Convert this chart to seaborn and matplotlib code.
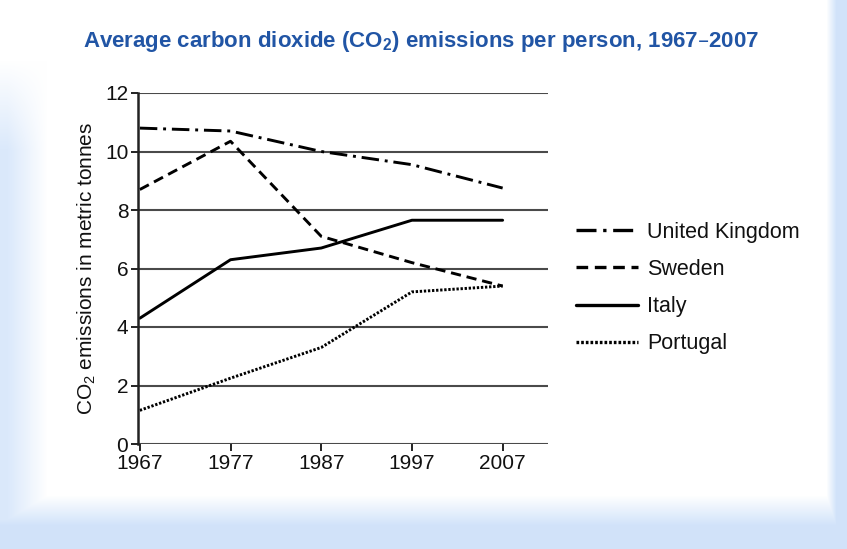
import numpy as np
import pandas as pd
import matplotlib
matplotlib.use("Agg")
import matplotlib.pyplot as plt
import seaborn as sns

# chart values
years = [1967, 1977, 1987, 1997, 2007]
uk = [10.8, 10.7, 10.0, 9.55, 8.75]
sweden = [8.7, 10.35, 7.1, 6.2, 5.4]
italy = [4.3, 6.3, 6.7, 7.65, 7.65]
portugal = [1.15, 2.25, 3.3, 5.2, 5.4]
countries = ["United Kingdom", "Sweden", "Italy", "Portugal"]

df = pd.DataFrame({
    "year": years * 4,
    "value": uk + sweden + italy + portugal,
    "country": [c for c in countries for _ in years],
})

sns.set_style("white")
plt.rcParams["font.family"] = ["Liberation Sans", "DejaVu Sans"]
plt.rcParams["mathtext.default"] = "regular"

fig = plt.figure(figsize=(8.47, 5.49), dpi=100)

# soft blue frame around the white panel
W, H = 847, 549
xx, yy = np.meshgrid(np.arange(W), np.arange(H))
left = np.clip((47 - xx) / 40, 0, 1) * np.clip((yy - 60) / 90, 0, 1) * 0.8
bottom = np.clip((yy - 495) / 30, 0, 1)
right = np.clip((xx - 826) / 10, 0, 1)
f = np.maximum(np.maximum(left, bottom), right)[..., None]
blue = np.array([0.82, 0.89, 0.98])
img = (1 - f) * 1.0 + f * blue
bg = fig.add_axes([0, 0, 1, 1], zorder=-5)
bg.imshow(img, aspect="auto")
bg.axis("off")

ax = fig.add_axes([138 / W, 1 - 444 / H, (548 - 138) / W, (444 - 93) / H])
ax.patch.set_alpha(0)

dashes = {
    "United Kingdom": (6, 2, 1, 2),
    "Sweden": (3.5, 2),
    "Italy": "",
    "Portugal": (0.8, 0.6),
}
sns.lineplot(data=df, x="year", y="value", style="country", style_order=countries,
             dashes=dashes, color="black", linewidth=2.1, ax=ax, legend=True)

ax.set_xlim(1966.8, 2012)
ax.set_ylim(0, 12)
ax.set_xticks(years)
ax.set_yticks(range(0, 13, 2))
ax.yaxis.grid(True, color="#4a4a4a", linewidth=1.5)
ax.set_axisbelow(True)
for s in ["top", "right", "bottom"]:
    ax.spines[s].set_visible(False)
ax.spines["left"].set_color("#222222")
ax.spines["left"].set_linewidth(1.8)
ax.tick_params(axis="both", direction="out", length=5, width=1.4, color="#222222",
               labelsize=15, pad=2, labelcolor="#111111")
ax.tick_params(axis="x", bottom=True)
ax.tick_params(axis="y", left=True)
ax.set_xlabel("")
ax.set_ylabel("CO$_2$ emissions in metric tonnes", fontsize=15, labelpad=5, color="#111111")

handles, labels = ax.get_legend_handles_labels()
ax.legend_.remove()
for h in handles:
    h.set_linewidth(2.4)
fig.legend(handles, labels, loc="center left", bbox_to_anchor=(576 / W, 1 - 288 / H),
           frameon=False, fontsize=15.5, handlelength=2.9, handletextpad=0.4,
           labelspacing=0.75, borderpad=0, borderaxespad=0, labelcolor="#111111")

fig.text(0.497, 1 - 42 / H, "Average carbon dioxide (CO$_2$) emissions per person, 1967–2007",
         ha="center", va="center", fontsize=16, fontweight="bold", color="#2155a5")

fig.savefig("out.png", dpi=100)
